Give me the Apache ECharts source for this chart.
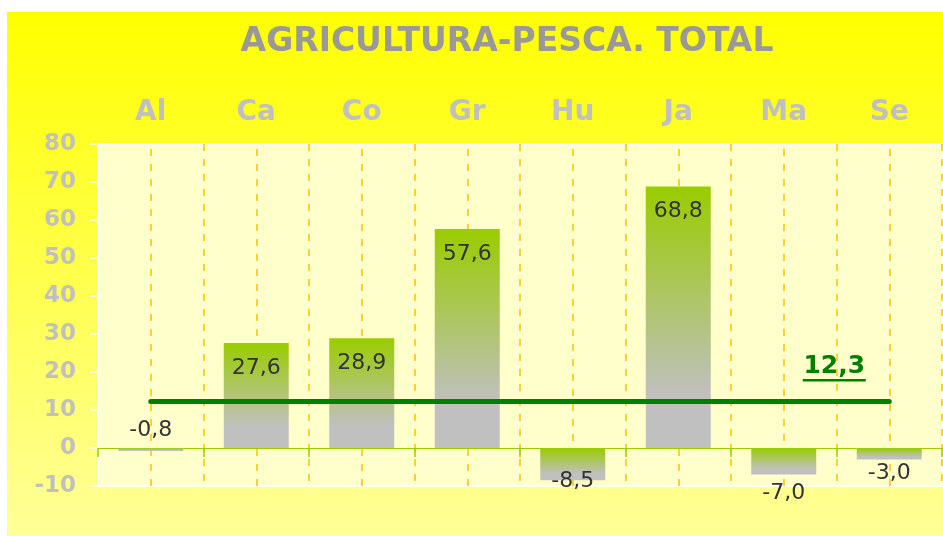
<!DOCTYPE html>
<html>
<head>
<meta charset="utf-8">
<script src="https://cdn.jsdelivr.net/npm/echarts@6/dist/echarts.min.js"></script>
<style>
html, body { margin: 0; padding: 0; background: #fff; }
#main { position: absolute; left: 7px; top: 12px; width: 936px; height: 524px;
        background: linear-gradient(#ffff00, #ffff99); }
</style>
</head>
<body>
<div id="main"></div>
<script>
// datos del grafico
var categories = ['Al', 'Ca', 'Co', 'Gr', 'Hu', 'Ja', 'Ma', 'Se'];
var values = [-0.8, 27.6, 28.9, 57.6, -8.5, 68.8, -7.0, -3.0];
var average = 12.3;
var yMin = -10, yMax = 80, yStep = 10;

function fmt(v) {
    return v.toFixed(1).replace('.', ',');
}

// posicion de las etiquetas (como en la hoja original)
var labelTweaks = {
    Al: { position: 'top', distance: 7 },
    Hu: { position: 'bottom', distance: -10 },
    Ma: { position: 'bottom', distance: 8 },
    Se: { position: 'bottom', distance: 3 }
};

var barData = values.map(function (v, i) {
    var t = labelTweaks[categories[i]];
    var item = { value: v };
    if (t) item.label = { position: t.position, distance: t.distance };
    return item;
});

var dashed = { color: '#ffd030', width: 2, type: [7, 8] };

var myChart = echarts.init(document.getElementById('main'));
var option = {
    backgroundColor: 'transparent',
    animation: false,
    title: {
        text: 'AGRICULTURA-PESCA. TOTAL',
        left: 495,
        top: 9,
        textAlign: 'center',
        textStyle: { color: '#999999', fontSize: 33, fontWeight: 'bold', fontFamily: 'DejaVu Sans' }
    },
    grid: {
        left: 91, right: 1, top: 132, bottom: 50,
        show: true, backgroundColor: '#ffffcc', borderColor: '#ffffff', borderWidth: 2
    },
    xAxis: [{
        type: 'category',
        data: categories,
        axisLine: { onZero: true, lineStyle: { color: '#99cc00', width: 1 } },
        axisTick: { show: true, length: 9, interval: 0, lineStyle: { color: '#99cc00', width: 1.5 } },
        axisLabel: { show: false },
        splitLine: { show: true, interval: 0, lineStyle: dashed }
    }, {
        type: 'category',
        position: 'top',
        data: categories,
        axisLine: { show: false },
        axisTick: { show: false },
        axisLabel: { color: '#c0c0c0', fontSize: 28, fontWeight: 'bold', fontFamily: 'DejaVu Sans', margin: 17 }
    }],
    yAxis: {
        type: 'value',
        min: yMin, max: yMax, interval: yStep,
        axisLine: { show: true, lineStyle: { color: '#ffffff', width: 2 } },
        axisTick: { show: true, length: 8, lineStyle: { color: '#ffffff', width: 1.5 } },
        axisLabel: { color: '#c0c0c0', fontSize: 23, fontWeight: 'bold', fontFamily: 'DejaVu Sans', margin: 22 },
        splitLine: { show: false }
    },
    series: [{
        // lineas discontinuas en el centro de cada categoria
        type: 'line',
        data: [],
        silent: true,
        markLine: {
            z: 1,
            silent: true,
            symbol: 'none',
            label: { show: false },
            lineStyle: dashed,
            data: categories.map(function (c) { return { xAxis: c }; })
        }
    }, {
        type: 'bar',
        z: 3,
        data: barData,
        barWidth: 65,
        itemStyle: {
            color: new echarts.graphic.LinearGradient(0, 0, 0, 1, [
                { offset: 0, color: '#99cc00' },
                { offset: 0.8, color: '#c0c0c0' },
                { offset: 1, color: '#c0c0c0' }
            ])
        },
        label: {
            show: true,
            position: 'insideTop',
            distance: 14,
            color: '#333333',
            fontSize: 22,
            fontFamily: 'DejaVu Sans',
            formatter: function (p) { return fmt(p.value); }
        },
        markLine: {
            z: 10,
            silent: true,
            symbol: 'none',
            label: { show: false },
            lineStyle: { color: '#008000', width: 5, type: 'solid', cap: 'round' },
            data: [[{ coord: [categories[0], average] }, { coord: [categories[categories.length - 1], average] }]]
        },
        markPoint: {
            z: 10,
            silent: true,
            symbol: 'rect',
            symbolSize: [63, 2.5],
            symbolOffset: [-55, -21],
            itemStyle: { color: '#008000' },
            label: {
                show: true,
                position: 'top',
                distance: 0,
                color: '#008000',
                fontSize: 25,
                fontWeight: 'bold',
                fontFamily: 'DejaVu Sans',
                formatter: function () { return fmt(average); }
            },
            data: [{ coord: [categories[categories.length - 1], average] }]
        }
    }]
};
myChart.setOption(option, true);
</script>
</body>
</html>
